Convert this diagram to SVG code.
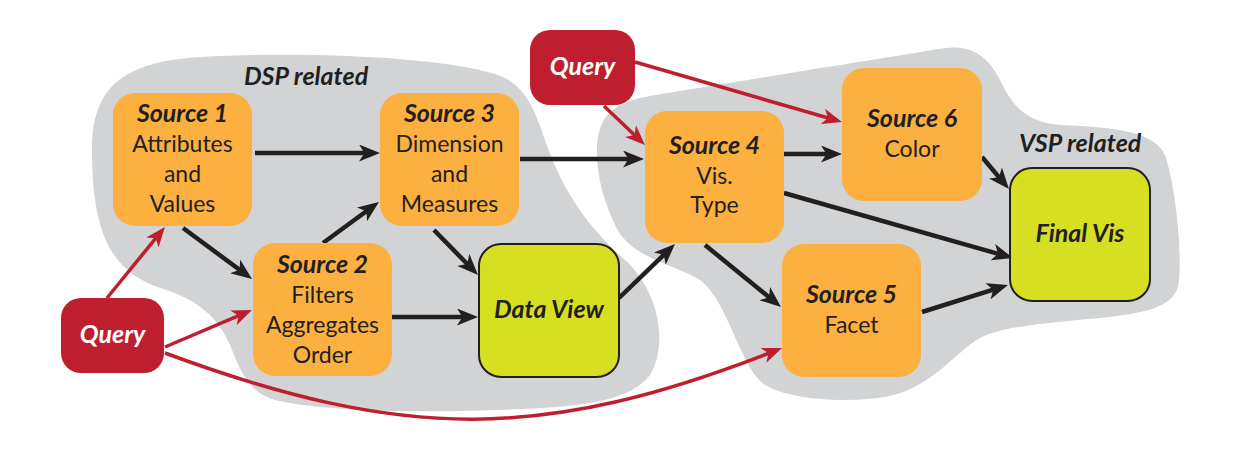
<svg xmlns="http://www.w3.org/2000/svg" width="1233" height="465" viewBox="0 0 1233 465">
<style>
.blob{fill:#d1d3d4}
.src{fill:#fbb040}
.fin{fill:#d7df23;stroke:#231f20;stroke-width:2}
.qry{fill:#be1e2d}
.t{font-family:Lato,"Liberation Sans",sans-serif;font-size:23px;fill:#231f20;text-anchor:middle}
.b{font-weight:bold;font-style:italic;font-size:25px}
.w{fill:#ffffff}
.lbl{font-family:Lato,"Liberation Sans",sans-serif;font-size:25px;font-weight:bold;font-style:italic;fill:#231f20}
.k{stroke:#231f20;stroke-width:4.5;fill:none;marker-end:url(#ak)}
.r{stroke:#be1e2d;stroke-width:3.5;fill:none;marker-end:url(#ar)}
</style>
<defs>
<marker id="ak" markerUnits="userSpaceOnUse" viewBox="0 0 21 17" markerWidth="21" markerHeight="17" refX="13" refY="8.5" orient="auto">
<path d="M0,0 L21,8.5 L0,17 L5.5,8.5 Z" fill="#231f20"/>
</marker>
<marker id="ar" markerUnits="userSpaceOnUse" viewBox="0 0 20 16" markerWidth="20" markerHeight="16" refX="12" refY="8" orient="auto">
<path d="M0,0 L20,8 L0,16 L5.5,8 Z" fill="#be1e2d"/>
</marker>
</defs>
<g id="dsp-region">
<path class="blob" d="M92,150 C92,85 125,62 200,57 C290,52 430,55 495,74 C525,83 535,110 545,140 C560,185 585,225 625,260 C660,292 668,345 650,375 C630,400 590,406 520,409 C440,413 330,413 275,400 C248,392 240,370 230,345 C218,318 200,300 160,288 C115,272 92,240 92,150 Z"/>
<text class="lbl" x="244" y="85">DSP related</text>
</g>
<g id="vsp-region">
<path class="blob" d="M597,150 C597,115 615,102 650,96 C720,84 860,62 945,48 C975,44 990,60 1000,80 C1012,105 1025,122 1060,125 C1120,127 1155,133 1165,155 C1175,185 1182,245 1179,280 C1177,302 1160,311 1110,317 C1060,322 1005,325 980,338 C955,352 935,385 890,396 C850,404 790,400 765,385 C740,368 728,300 700,280 C670,262 630,258 615,225 C604,200 597,180 597,150 Z"/>
<text class="lbl" x="1019" y="152">VSP related</text>
</g>
<g id="connectors">
<line class="k" x1="255" y1="153" x2="372" y2="153"/>
<line class="k" x1="183" y1="228" x2="245.6" y2="274.2"/>
<line class="k" x1="323" y1="243" x2="372.5" y2="206.7"/>
<line class="k" x1="392" y1="317" x2="470" y2="317"/>
<line class="k" x1="434" y1="230" x2="472.4" y2="269.3"/>
<line class="k" x1="520" y1="159" x2="636" y2="159"/>
<line class="k" x1="619" y1="298" x2="669.2" y2="249.6"/>
<line class="k" x1="784" y1="154" x2="834" y2="154"/>
<line class="k" x1="784" y1="193" x2="1005.3" y2="255.8"/>
<line class="k" x1="705" y1="245" x2="774.8" y2="301.9"/>
<line class="k" x1="982" y1="157" x2="1003.8" y2="182.9"/>
<line class="k" x1="922" y1="312" x2="1000.4" y2="287.4"/>
<line class="r" x1="107" y1="298" x2="159.9" y2="233.2"/>
<line class="r" x1="165" y1="347" x2="244.6" y2="313.1"/>
<path class="r" d="M165,353 C405,442 545,441 774.6,351"/>
<line class="r" x1="604" y1="106" x2="639.2" y2="139.5"/>
<line class="r" x1="635" y1="62" x2="834.3" y2="119.8"/>
</g>
<g id="source1">
<rect class="src" x="113" y="93" width="139" height="133" rx="22"/>
<text class="t b" x="182.5" y="122">Source 1</text>
<text class="t" x="182.5" y="152">Attributes</text>
<text class="t" x="182.5" y="182">and</text>
<text class="t" x="182.5" y="212">Values</text>
</g>
<g id="source2">
<rect class="src" x="253" y="243" width="139" height="133" rx="22"/>
<text class="t b" x="322.5" y="273">Source 2</text>
<text class="t" x="322.5" y="303">Filters</text>
<text class="t" x="322.5" y="333">Aggregates</text>
<text class="t" x="322.5" y="363">Order</text>
</g>
<g id="source3">
<rect class="src" x="380" y="93" width="139" height="133" rx="22"/>
<text class="t b" x="449.5" y="122">Source 3</text>
<text class="t" x="449.5" y="152">Dimension</text>
<text class="t" x="449.5" y="182">and</text>
<text class="t" x="449.5" y="212">Measures</text>
</g>
<g id="data-view">
<rect class="fin" x="479" y="244" width="140" height="133" rx="22"/>
<text class="t b" x="549" y="318">Data View</text>
</g>
<g id="source4">
<rect class="src" x="645" y="111" width="139" height="132" rx="22"/>
<text class="t b" x="714.5" y="154">Source 4</text>
<text class="t" x="714.5" y="184">Vis.</text>
<text class="t" x="714.5" y="213">Type</text>
</g>
<g id="source6">
<rect class="src" x="842" y="68" width="140" height="133" rx="22"/>
<text class="t b" x="912" y="127">Source 6</text>
<text class="t" x="912" y="157">Color</text>
</g>
<g id="source5">
<rect class="src" x="782" y="244" width="139" height="133" rx="22"/>
<text class="t b" x="851.5" y="303">Source 5</text>
<text class="t" x="851.5" y="333">Facet</text>
</g>
<g id="final-vis">
<rect class="fin" x="1010" y="168" width="140" height="133" rx="22"/>
<text class="t b" x="1080" y="242">Final Vis</text>
</g>
<g id="query-top">
<rect class="qry" x="530" y="30" width="105" height="75" rx="20"/>
<text class="t b w" x="582.5" y="75">Query</text>
</g>
<g id="query-left">
<rect class="qry" x="61" y="298" width="103" height="75" rx="20"/>
<text class="t b w" x="112.5" y="343">Query</text>
</g>
</svg>
